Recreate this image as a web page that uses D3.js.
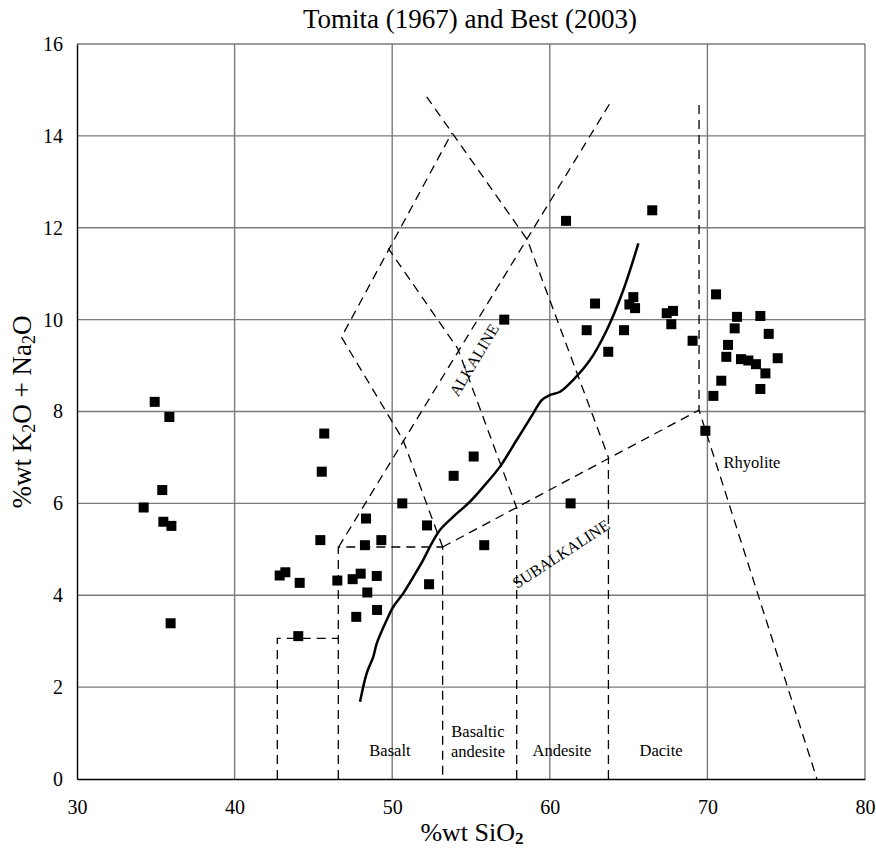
<!DOCTYPE html>
<html><head><meta charset="utf-8">
<script src="https://cdn.jsdelivr.net/npm/d3@7"></script>
<style>body{margin:0;background:#fff} svg{display:block}</style>
</head><body>
<svg id="chart" width="876" height="851"></svg>
<script>
// ---- data ----
const sio2 = [34.93, 35.86, 35.41, 34.23, 35.48, 35.99, 35.94,
  45.69, 45.53, 50.64, 48.34, 52.21, 45.44, 48.27, 49.31, 55.84, 55.17, 53.90, 42.86, 43.22, 44.13,
  46.52, 47.49, 48.00, 49.02, 52.34, 48.42, 49.04, 47.72, 44.04,
  61.03, 66.50, 57.11, 62.87, 65.30, 65.05, 65.41, 62.34, 64.71, 63.71, 61.32,
  70.55, 67.82, 67.42, 67.71, 69.06, 71.88, 73.36, 71.73, 73.89, 71.31, 71.20, 72.13, 72.60, 73.08,
  73.68, 74.46, 70.88, 73.36, 70.38, 69.87];
const alkali = [8.21, 7.88, 6.29, 5.91, 5.60, 5.51, 3.39,
  7.52, 6.69, 6.00, 5.67, 5.52, 5.20, 5.09, 5.20, 5.09, 7.02, 6.60, 4.43, 4.50, 4.27,
  4.32, 4.35, 4.47, 4.42, 4.24, 4.06, 3.68, 3.53, 3.11,
  12.15, 12.38, 10.00, 10.35, 10.49, 10.33, 10.25, 9.77, 9.77, 9.30, 6.00,
  10.55, 10.19, 10.14, 9.90, 9.54, 10.06, 10.08, 9.81, 9.69, 9.45, 9.19, 9.14, 9.11, 9.03,
  8.83, 9.16, 8.67, 8.49, 8.34, 7.58];

// alkaline / subalkaline dividing curve
const divideSiO2 = [47.96, 48.38, 48.80, 49.02, 49.65, 50.07, 50.70, 51.34, 51.97, 52.40, 53.03, 53.88,
  54.94, 55.78, 56.84, 57.90, 58.95, 59.49, 60.01, 60.65, 61.49, 62.55, 63.61, 64.66, 65.62];
const divideAlk = [1.68, 2.30, 2.66, 2.95, 3.46, 3.75, 4.04, 4.40, 4.77, 5.06, 5.42, 5.71,
  6.04, 6.36, 6.80, 7.38, 7.96, 8.25, 8.36, 8.43, 8.69, 9.12, 9.77, 10.64, 11.66];

// field boundaries (SiO2, alkali) vertices
const picrobasaltTop = [[42.71, 0], [42.71, 3.06], [46.58, 3.06]];
const basaltBox = [[46.58, 0], [46.58, 5.05], [53.2, 5.05], [53.2, 0]];
const alkalineLine = [[46.6, 5.05], [63.82, 14.71]];
const subalkalineLine = [[53.2, 5.05], [69.47, 8.03]];
const rhyoliteLine = [[69.47, 14.67], [69.47, 8.03], [76.95, 0]];
const andesiteLeft = [[57.9, 0], [57.9, 5.90], [54.16, 9.37], [49.75, 11.55]];
const andesiteRight = [[63.72, 0], [63.72, 7.0], [58.57, 11.74], [52.19, 14.85]];
const diamondLow = [[53.2, 5.05], [50.69, 7.38], [46.78, 9.62], [53.78, 14.06]];
const boundaries = [picrobasaltTop, basaltBox, alkalineLine, subalkalineLine, rhyoliteLine,
  andesiteLeft, andesiteRight, diamondLow];

const xTicks = [30, 40, 50, 60, 70, 80];
const yTicks = [0, 2, 4, 6, 8, 10, 12, 14, 16];

const fieldNames = ["Basalt", "Basaltic", "andesite", "Andesite", "Dacite", "Rhyolite"];
const fieldX = [49.86, 55.44, 55.44, 60.77, 67.06, 72.83];
const fieldY = [0.61, 1.03, 0.60, 0.61, 0.61, 6.9];

// ---- drawing ----
const W = 876, H = 851;
const m = {l: 77, r: 11, t: 44, b: 72};
const svg = d3.select("#chart");
const x = d3.scaleLinear().domain([30, 80]).range([m.l, W - m.r]);
const y = d3.scaleLinear().domain([0, 16]).range([H - m.b, m.t]);
const serif = "'Liberation Serif','Times New Roman',serif";

// grid
const g = svg.append("g");
g.selectAll("line.gx").data(xTicks.slice(1)).join("line")
  .attr("x1", d => x(d)).attr("x2", d => x(d)).attr("y1", y(0)).attr("y2", y(16))
  .attr("stroke", "#7a7a7a").attr("stroke-width", 1.4);
g.selectAll("line.gy").data(yTicks.slice(1)).join("line")
  .attr("y1", d => y(d)).attr("y2", d => y(d)).attr("x1", x(30)).attr("x2", x(80))
  .attr("stroke", "#7a7a7a").attr("stroke-width", 1.4);

// axes
const xAxis = svg.append("g").attr("transform", `translate(0,${y(0)})`)
  .call(d3.axisBottom(x).tickValues(xTicks).tickSize(0).tickPadding(21));
const yAxis = svg.append("g").attr("transform", `translate(${x(30)},0)`)
  .call(d3.axisLeft(y).tickValues(yTicks).tickSize(0).tickPadding(14));
[xAxis, yAxis].forEach(a => {
  a.select(".domain").attr("stroke", "#000").attr("stroke-width", 1.4);
  a.selectAll("text").attr("font-family", serif).attr("font-size", 20).attr("fill", "#000");
});

// boundaries
const line = d3.line().x(d => x(d[0])).y(d => y(d[1]));
svg.append("g").selectAll("path").data(boundaries).join("path")
  .attr("d", line).attr("fill", "none").attr("stroke", "#000")
  .attr("stroke-width", 1.3).attr("stroke-dasharray", "9,6");

// dividing curve
const curvePts = divideSiO2.map((v, i) => [v, divideAlk[i]]);
svg.append("path").datum(curvePts)
  .attr("d", d3.line().x(d => x(d[0])).y(d => y(d[1])).curve(d3.curveCatmullRom))
  .attr("fill", "none").attr("stroke", "#000").attr("stroke-width", 2.5);

// points
const s = 10;
svg.append("g").selectAll("rect").data(sio2.map((v, i) => [v, alkali[i]])).join("rect")
  .attr("x", d => x(d[0]) - s / 2).attr("y", d => y(d[1]) - s / 2)
  .attr("width", s).attr("height", s).attr("fill", "#000");

// field labels
svg.append("g").selectAll("text").data(fieldNames).join("text")
  .attr("x", (d, i) => x(fieldX[i])).attr("y", (d, i) => y(fieldY[i]))
  .attr("text-anchor", "middle").attr("dominant-baseline", "central")
  .attr("font-family", serif).attr("font-size", 16.5).text(d => d);

svg.append("text").attr("transform", `translate(${x(55.19)},${y(9.12)}) rotate(-59)`)
  .attr("text-anchor", "middle").attr("dominant-baseline", "central")
  .attr("font-family", serif).attr("font-size", 16).text("ALKALINE");
svg.append("text").attr("transform", `translate(${x(60.71)},${y(4.9)}) rotate(-33)`)
  .attr("text-anchor", "middle").attr("dominant-baseline", "central")
  .attr("font-family", serif).attr("font-size", 16).text("SUBALKALINE");

// title
svg.append("text").attr("x", 470).attr("y", 28).attr("text-anchor", "middle")
  .attr("font-family", serif).attr("font-size", 27).text("Tomita (1967) and Best (2003)");

// axis titles
const xt = svg.append("text").attr("x", 472).attr("y", 841).attr("text-anchor", "middle")
  .attr("font-family", serif).attr("font-size", 26);
xt.append("tspan").text("%wt SiO");
xt.append("tspan").attr("font-size", 17).attr("dy", 3).attr("font-weight", "bold").text("2");

const yt = svg.append("text").attr("transform", "translate(31,412) rotate(-90)")
  .attr("text-anchor", "middle").attr("font-family", serif).attr("font-size", 27);
yt.append("tspan").text("%wt K");
yt.append("tspan").attr("font-size", 18).attr("dy", 4).text("2");
yt.append("tspan").attr("dy", -4).text("O + Na");
yt.append("tspan").attr("font-size", 18).attr("dy", 4).text("2");
yt.append("tspan").attr("dy", -4).text("O");
</script>
</body></html>
